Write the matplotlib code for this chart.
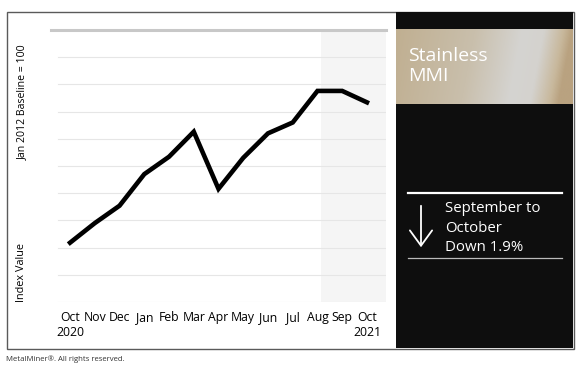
import numpy as np
import matplotlib.pyplot as plt
from matplotlib.patches import Rectangle
from matplotlib.colors import LinearSegmentedColormap

plt.rcParams['font.family'] = ['Open Sans', 'DejaVu Sans']

MONTHS = ["Oct", "Nov", "Dec", "Jan", "Feb", "Mar", "Apr",
          "May", "Jun", "Jul", "Aug", "Sep", "Oct"]
TICK_LABELS = ["Oct\n2020"] + MONTHS[1:-1] + ["Oct\n2021"]
INDEX = [70.9, 74.5, 77.7, 83.5, 86.7, 91.3, 80.8,
         86.5, 91.0, 93.0, 98.8, 98.8, 96.7]
Y_MIN, Y_MAX, Y_STEP = 60, 110, 5
SHADE_FROM = 10.15

TITLE = "Stainless\nMMI"
CHANGE_TEXT = "September to\nOctober\nDown 1.9%"
GOLD = [(0.0, "#c0af91"), (0.45, "#c9bfac"), (0.72, "#d5d4d1"),
        (0.84, "#d4d2ce"), (0.95, "#c8b89c"), (1.0, "#b9a280")]

W, H = 580, 369
fig = plt.figure(figsize=(W / 100, H / 100), dpi=100)

# pixel-space background layer
bg = fig.add_axes([0, 0, 1, 1], zorder=0)
bg.axis("off")

bg.add_patch(Rectangle((6.5, 11.5), 567, 337, facecolor="white",
                       edgecolor="#5a5a5a", lw=1.0))
bg.add_patch(Rectangle((396, 12), 177, 336, facecolor="#0e0e0e", lw=0))

cmap = LinearSegmentedColormap.from_list("gold", GOLD)
gx, gy = np.meshgrid(np.linspace(0, 1, 300), np.linspace(0, 1, 80))
grad = np.clip(gx + 0.08 * gy, 0, 1)
bg.imshow(grad, cmap=cmap, vmin=0, vmax=1, extent=[396, 573, 104, 29],
          aspect="auto", zorder=1, interpolation="bilinear")
bg.set_xlim(0, W)
bg.set_ylim(H, 0)

bg.text(408, 66, TITLE, color="white", fontsize=14, va="center",
        ha="left", linespacing=1.2, zorder=3)

bg.plot([408, 562], [193, 193], color="white", lw=1.6, zorder=3)
bg.plot([408, 562], [258, 258], color="#bbbbbb", lw=0.9, zorder=3)
bg.annotate("", xy=(421, 250), xytext=(421, 203),
            arrowprops=dict(arrowstyle="->,head_length=0.55,head_width=0.4",
                            color="white", lw=1.3, mutation_scale=20),
            zorder=3)
bg.text(445, 228, CHANGE_TEXT, color="white", fontsize=10.8, va="center",
        ha="left", linespacing=1.38, zorder=3)

bg.text(6, 359, "MetalMiner\u00ae. All rights reserved.", fontsize=5.6,
        color="#333333", va="center", ha="left")

fig.text(22 / W, 1 - 102 / H, "Jan 2012 Baseline = 100", rotation=90,
         fontsize=7.6, ha="center", va="center")
fig.text(22 / W, 1 - 273 / H, "Index Value", rotation=90,
         fontsize=7.8, ha="center", va="center")

# main chart
ax = fig.add_axes([51 / W, 1 - 302 / H, (386 - 51) / W, (302 - 30) / H],
                  zorder=1)
ax.patch.set_alpha(0)
x = np.arange(len(INDEX))
xlo, xhi = -0.77, 12.77
ax.set_xlim(xlo, xhi)
ax.set_ylim(Y_MIN, Y_MAX)

ax.axvspan(SHADE_FROM, xhi, color="#f5f5f5", lw=0, zorder=0)
for yv in np.arange(Y_MIN, Y_MAX, Y_STEP):
    ax.axhline(yv, xmin=0.02, xmax=1, color="#e6e6e6", lw=0.8, zorder=1)
ax.axhline(Y_MAX, color="#c8c8c8", lw=2.2, zorder=1, clip_on=False)

ax.plot(x, INDEX, color="black", lw=3.3, solid_joinstyle="miter", zorder=3)

ax.set_xticks(x)
ax.set_xticklabels(TICK_LABELS, fontsize=8.8)
ax.tick_params(axis="x", length=0, pad=6.5)
ax.set_yticks([])
for s in ax.spines.values():
    s.set_visible(False)

fig.savefig("out.png", dpi=100)
